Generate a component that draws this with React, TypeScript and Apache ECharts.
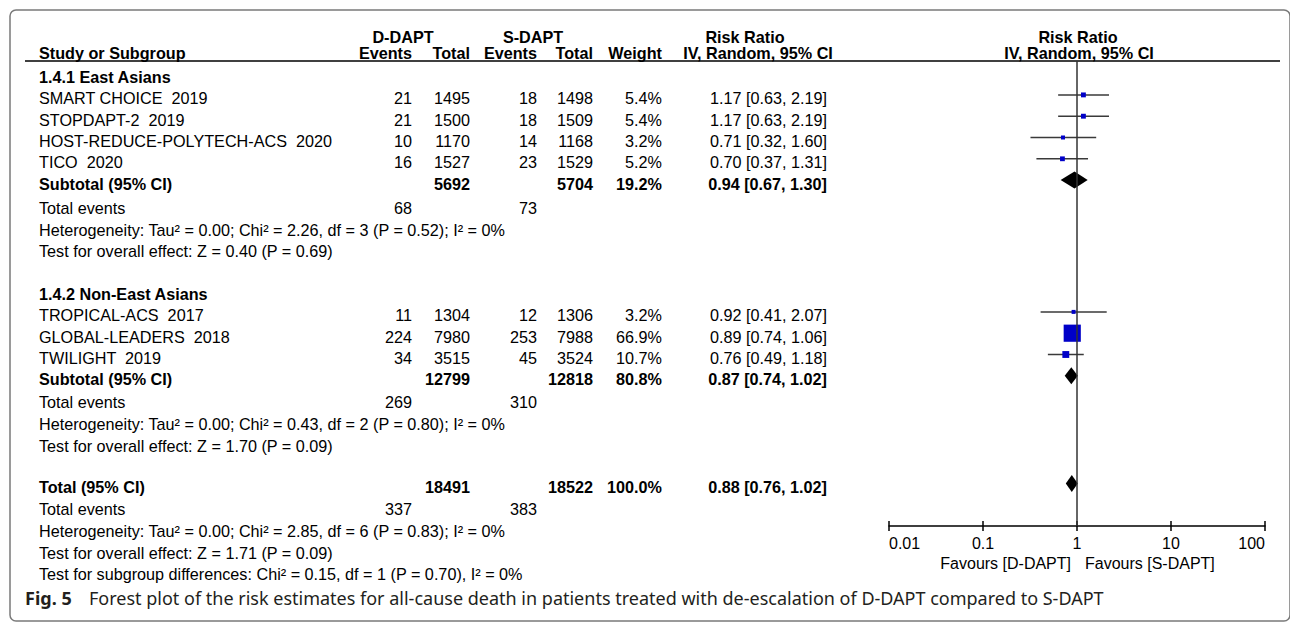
import React, { useEffect, useRef } from "react";
import * as echarts from "echarts";

// ---------------- data ----------------
const studyNames = [
  "SMART CHOICE  2019",
  "STOPDAPT-2  2019",
  "HOST-REDUCE-POLYTECH-ACS  2020",
  "TICO  2020",
  "TROPICAL-ACS  2017",
  "GLOBAL-LEADERS  2018",
  "TWILIGHT  2019",
];
const studyGroup = [0, 0, 0, 0, 1, 1, 1];
const dEvents = [21, 21, 10, 16, 11, 224, 34];
const dTotals = [1495, 1500, 1170, 1527, 1304, 7980, 3515];
const sEvents = [18, 18, 14, 23, 12, 253, 45];
const sTotals = [1498, 1509, 1168, 1529, 1306, 7988, 3524];
const weights = [5.4, 5.4, 3.2, 5.2, 3.2, 66.9, 10.7];
const riskRatios = [1.17, 1.17, 0.71, 0.7, 0.92, 0.89, 0.76];
const ciLow = [0.63, 0.63, 0.32, 0.37, 0.41, 0.74, 0.49];
const ciHigh = [2.19, 2.19, 1.6, 1.31, 2.07, 1.06, 1.18];

const groupNames = ["1.4.1 East Asians", "1.4.2 Non-East Asians"];
const groupDTotals = [5692, 12799];
const groupSTotals = [5704, 12818];
const groupWeights = [19.2, 80.8];
const groupRR = [0.94, 0.87];
const groupLow = [0.67, 0.74];
const groupHigh = [1.3, 1.02];
const groupDEvents = [68, 269];
const groupSEvents = [73, 310];
const groupHet = [
  "Heterogeneity: Tau² = 0.00; Chi² = 2.26, df = 3 (P = 0.52); I² = 0%",
  "Heterogeneity: Tau² = 0.00; Chi² = 0.43, df = 2 (P = 0.80); I² = 0%",
];
const groupTest = [
  "Test for overall effect: Z = 0.40 (P = 0.69)",
  "Test for overall effect: Z = 1.70 (P = 0.09)",
];

const overallDTotal = 18491;
const overallSTotal = 18522;
const overallWeight = 100.0;
const overallRR = 0.88;
const overallLow = 0.76;
const overallHigh = 1.02;
const overallDEvents = 337;
const overallSEvents = 383;
const overallHet = "Heterogeneity: Tau² = 0.00; Chi² = 2.85, df = 6 (P = 0.83); I² = 0%";
const overallTest = "Test for overall effect: Z = 1.71 (P = 0.09)";
const subgroupTest = "Test for subgroup differences: Chi² = 0.15, df = 1 (P = 0.70), I² = 0%";

const tickLabels = ["0.01", "0.1", "1", "10", "100"];
const favourLeft = "Favours [D-DAPT]";
const favourRight = "Favours [S-DAPT]";
const captionBold = "Fig. 5";
const captionText =
  "Forest plot of the risk estimates for all-cause death in patients treated with de-escalation of D-DAPT compared to S-DAPT";

// ---------------- layout (positions / styles) ----------------
const ROW_Y = [
  77, 98.3, 119.6, 140.9, 162.2, 183.5, 208, 230, 251,
  294, 315.3, 336.6, 357.9, 379.2, 402, 424, 446,
  487, 509, 531, 553, 574,
];
const MARK_SHIFT = 3.4;
const PLOT_TOP = 61;
const AXIS_Y = 526;
const PLOT_LEFT = 889;
const PLOT_WIDTH = 376;
const X_LABEL = 39;
const X_DE = 412;
const X_DT = 470;
const X_SE = 537;
const X_ST = 593;
const X_W = 662;
const X_RR = 827;
const FS = 16.2;
const FONT = '"Liberation Sans", Arial, Helvetica, sans-serif';
const CAP_FONT = '"Noto Sans", "Open Sans", sans-serif';

const fmt2 = (v: number) => v.toFixed(2);
const ciText = (r: number, l: number, h: number) => `${fmt2(r)} [${fmt2(l)}, ${fmt2(h)}]`;

function txt(text: string, x: number, y: number, align: string, bold = false, size = FS, family = FONT, fill = "#000") {
  return {
    type: "text",
    x,
    y,
    silent: true,
    style: {
      text,
      fill,
      font: `${bold ? "bold " : ""}${size}px ${family}`,
      align,
      verticalAlign: "middle",
      textAlign: align,
      textVerticalAlign: "middle",
    },
  };
}

type Row =
  | { kind: "group"; g: number }
  | { kind: "study"; i: number }
  | { kind: "subtotal"; g: number }
  | { kind: "events"; d: number; s: number }
  | { kind: "note"; text: string }
  | { kind: "total" };

function buildRows(): Row[] {
  const rows: Row[] = [];
  groupNames.forEach((_, g) => {
    rows.push({ kind: "group", g });
    studyNames.forEach((__, i) => {
      if (studyGroup[i] === g) rows.push({ kind: "study", i });
    });
    rows.push({ kind: "subtotal", g });
    rows.push({ kind: "events", d: groupDEvents[g], s: groupSEvents[g] });
    rows.push({ kind: "note", text: groupHet[g] });
    rows.push({ kind: "note", text: groupTest[g] });
  });
  rows.push({ kind: "total" });
  rows.push({ kind: "events", d: overallDEvents, s: overallSEvents });
  rows.push({ kind: "note", text: overallHet });
  rows.push({ kind: "note", text: overallTest });
  rows.push({ kind: "note", text: subgroupTest });
  return rows;
}

function buildOption() {
  const rows = buildRows();
  const graphics: any[] = [];
  const studyData: any[] = [];
  const diamondData: any[] = [];

  // frame
  graphics.push({
    type: "rect",
    silent: true,
    shape: { x: 10, y: 10, width: 1280, height: 611, r: 6 },
    style: { fill: "none", stroke: "#7a7a7a", lineWidth: 1.5 },
  });
  // header underline
  graphics.push({
    type: "line",
    silent: true,
    shape: { x1: 25, y1: 61, x2: 1280, y2: 61 },
    style: { stroke: "#000", lineWidth: 1.5 },
  });
  // headers
  graphics.push(txt("D-DAPT", 403, 37, "center", true));
  graphics.push(txt("S-DAPT", 533, 37, "center", true));
  graphics.push(txt("Risk Ratio", 745, 37, "center", true));
  graphics.push(txt("Risk Ratio", 1078, 37, "center", true));
  graphics.push(txt("Study or Subgroup", X_LABEL, 53, "left", true));
  graphics.push(txt("Events", X_DE, 53, "right", true));
  graphics.push(txt("Total", X_DT, 53, "right", true));
  graphics.push(txt("Events", X_SE, 53, "right", true));
  graphics.push(txt("Total", X_ST, 53, "right", true));
  graphics.push(txt("Weight", X_W, 53, "right", true));
  graphics.push(txt("IV, Random, 95% CI", 758, 53, "center", true));
  graphics.push(txt("IV, Random, 95% CI", 1079, 53, "center", true));

  rows.forEach((row, k) => {
    const y = ROW_Y[k];
    const my = y - MARK_SHIFT;
    if (row.kind === "group") {
      graphics.push(txt(groupNames[row.g], X_LABEL, y, "left", true));
    } else if (row.kind === "study") {
      const i = row.i;
      graphics.push(txt(studyNames[i], X_LABEL, y, "left"));
      graphics.push(txt(String(dEvents[i]), X_DE, y, "right"));
      graphics.push(txt(String(dTotals[i]), X_DT, y, "right"));
      graphics.push(txt(String(sEvents[i]), X_SE, y, "right"));
      graphics.push(txt(String(sTotals[i]), X_ST, y, "right"));
      graphics.push(txt(weights[i].toFixed(1) + "%", X_W, y, "right"));
      graphics.push(txt(ciText(riskRatios[i], ciLow[i], ciHigh[i]), X_RR, y, "right"));
      studyData.push([riskRatios[i], ciLow[i], ciHigh[i], my, weights[i]]);
    } else if (row.kind === "subtotal") {
      const g = row.g;
      graphics.push(txt("Subtotal (95% CI)", X_LABEL, y, "left", true));
      graphics.push(txt(String(groupDTotals[g]), X_DT, y, "right", true));
      graphics.push(txt(String(groupSTotals[g]), X_ST, y, "right", true));
      graphics.push(txt(groupWeights[g].toFixed(1) + "%", X_W, y, "right", true));
      graphics.push(txt(ciText(groupRR[g], groupLow[g], groupHigh[g]), X_RR, y, "right", true));
      diamondData.push([groupRR[g], groupLow[g], groupHigh[g], my]);
    } else if (row.kind === "events") {
      graphics.push(txt("Total events", X_LABEL, y, "left"));
      graphics.push(txt(String(row.d), X_DE, y, "right"));
      graphics.push(txt(String(row.s), X_SE, y, "right"));
    } else if (row.kind === "note") {
      graphics.push(txt(row.text, X_LABEL, y, "left"));
    } else if (row.kind === "total") {
      graphics.push(txt("Total (95% CI)", X_LABEL, y, "left", true));
      graphics.push(txt(String(overallDTotal), X_DT, y, "right", true));
      graphics.push(txt(String(overallSTotal), X_ST, y, "right", true));
      graphics.push(txt(overallWeight.toFixed(1) + "%", X_W, y, "right", true));
      graphics.push(txt(ciText(overallRR, overallLow, overallHigh), X_RR, y, "right", true));
      diamondData.push([overallRR, overallLow, overallHigh, my]);
    }
  });

  // favours labels
  graphics.push(txt(favourLeft, 1071, 563, "right", false, 16));
  graphics.push(txt(favourRight, 1085, 563, "left", false, 16));
  // caption
  graphics.push(txt(captionBold, 25, 598, "left", true, 18, CAP_FONT, "#231f20"));
  graphics.push(txt(captionText, 89, 598, "left", false, 18, CAP_FONT, "#231f20"));

  const tickFmt = (v: number) => {
    const e = Math.round(Math.log10(v)) + 2;
    return tickLabels[e] ?? String(v);
  };

  return {
    animation: false,
    backgroundColor: "#fff",
    grid: { left: PLOT_LEFT, width: PLOT_WIDTH, top: PLOT_TOP, height: AXIS_Y - PLOT_TOP, containLabel: false },
    xAxis: [
      {
        type: "log",
        logBase: 10,
        min: 0.01,
        max: 100,
        position: "bottom",
        axisLine: { show: true, lineStyle: { color: "#000", width: 1.5 } },
        axisTick: { show: true, length: 5, lineStyle: { color: "#000", width: 1.5 } },
        axisLabel: {
          show: true,
          formatter: tickFmt,
          fontSize: 16,
          color: "#000",
          fontFamily: FONT,
          margin: 9,
          alignMinLabel: "left",
          alignMaxLabel: "right",
          showMinLabel: true,
          showMaxLabel: true,
        },
        splitLine: { show: false },
        minorTick: { show: false },
      },
      {
        type: "log",
        logBase: 10,
        min: 0.01,
        max: 100,
        position: "bottom",
        offset: 0,
        axisLine: { show: false },
        axisTick: { show: true, inside: true, length: 5, lineStyle: { color: "#000", width: 1.5 } },
        axisLabel: { show: false },
        splitLine: { show: false },
      },
    ],
    yAxis: { type: "value", min: PLOT_TOP, max: AXIS_Y, inverse: true, show: false },
    graphic: { elements: graphics },
    series: [
      {
        type: "custom",
        name: "studies",
        xAxisIndex: 0,
        yAxisIndex: 0,
        clip: false,
        silent: true,
        encode: { x: [0, 1, 2], y: 3 },
        data: studyData,
        renderItem: (params: any, api: any) => {
          const y = api.value(3);
          const c = api.coord([api.value(0), y]);
          const l = api.coord([api.value(1), y]);
          const h = api.coord([api.value(2), y]);
          const s = Math.max(4, 2.1 * Math.sqrt(api.value(4)));
          return {
            type: "group",
            children: [
              {
                type: "line",
                shape: { x1: l[0], y1: l[1], x2: h[0], y2: h[1] },
                style: { stroke: "#3a3a3a", lineWidth: 1.5 },
              },
              {
                type: "rect",
                shape: { x: c[0] - s / 2, y: c[1] - s / 2, width: s, height: s },
                style: { fill: "#0000c8" },
              },
            ],
          };
        },
        markLine: {
          silent: true,
          symbol: "none",
          label: { show: false },
          lineStyle: { color: "#333", width: 1.5, type: "solid" },
          data: [{ xAxis: 1 }],
        },
      },
      {
        type: "custom",
        name: "pooled",
        xAxisIndex: 0,
        yAxisIndex: 0,
        clip: false,
        silent: true,
        encode: { x: [0, 1, 2], y: 3 },
        data: diamondData,
        renderItem: (params: any, api: any) => {
          const y = api.value(3);
          const c = api.coord([api.value(0), y]);
          const l = api.coord([api.value(1), y]);
          const h = api.coord([api.value(2), y]);
          const hh = 8.5;
          return {
            type: "polygon",
            shape: {
              points: [
                [l[0], c[1]],
                [c[0], c[1] - hh],
                [h[0], c[1]],
                [c[0], c[1] + hh],
              ],
            },
            style: { fill: "#000" },
          };
        },
      },
    ],
  };
}

export default function App() {
  const ref = useRef<HTMLDivElement>(null);
  useEffect(() => {
    if (!ref.current) return;
    const chart = echarts.init(ref.current, undefined, { renderer: "svg" });
    chart.setOption(buildOption() as any);
    return () => chart.dispose();
  }, []);
  return (
    <div
      ref={ref}
      style={{ position: "fixed", left: 0, top: 0, width: 1290, height: 622, background: "#fff" }}
    />
  );
}
